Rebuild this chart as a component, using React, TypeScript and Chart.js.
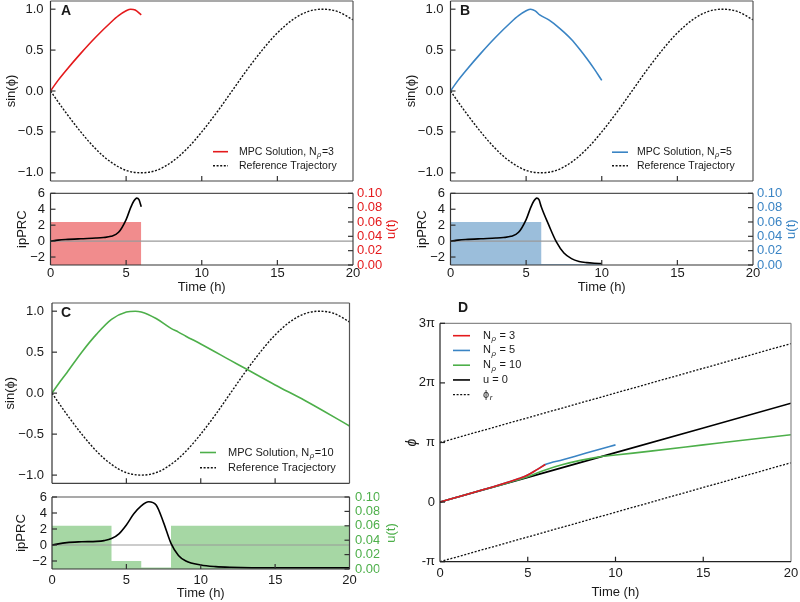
import React, { useEffect, useRef } from "react";
import { Chart, registerables } from "chart.js";
Chart.register(...registerables);

const FONT = "'Liberation Sans', Arial, Helvetica, sans-serif";
Chart.defaults.font.family = FONT;
Chart.defaults.font.size = 13;
Chart.defaults.color = "#1a1a1a";

// ---------------- data ----------------
const timeTicks = [0, 5, 10, 15, 20];
const sinTicks = [-1, -0.5, 0, 0.5, 1];
const prcTicks = [-2, 0, 2, 4, 6];
const uTicks = [0, 0.02, 0.04, 0.06, 0.08, 0.1];
const phiTicks = [-1, 0, 1, 2, 3];
const phiTickLabels = ["-π", "0", "π", "2π", "3π"];

// reference trajectory sin(phi_r)
const refTimes = [0, 1, 2, 3, 4, 5, 6, 7, 8, 9, 10, 11, 12, 13, 14, 15, 16, 17, 18, 19, 20];
const refSin = [0, -0.26, -0.5, -0.71, -0.87, -0.97, -1.0, -0.97, -0.87, -0.71, -0.5, -0.26, 0, 0.26, 0.5, 0.71, 0.87, 0.97, 1.0, 0.97, 0.87];

// MPC solutions sin(phi)
const mpcTimesA = [0, 0.5, 1, 2, 3, 4, 4.5, 5, 5.3, 5.6, 6];
const mpcSinA = [0, 0.13, 0.245, 0.46, 0.66, 0.84, 0.92, 0.98, 1.0, 0.99, 0.93];
const mpcTimesB = [0, 0.5, 1, 2, 3, 4, 4.5, 5, 5.3, 5.6, 5.9, 6.5, 7, 7.5, 8, 8.5, 9, 9.5, 10];
const mpcSinB = [0, 0.13, 0.245, 0.46, 0.66, 0.84, 0.92, 0.98, 1.0, 0.98, 0.93, 0.87, 0.8, 0.72, 0.63, 0.52, 0.4, 0.27, 0.13];
const mpcTimesC = [0, 0.5, 1, 2, 3, 4, 5, 5.6, 6, 7, 8, 8.5, 9, 10, 12, 13, 15, 17, 20];
const mpcSinC = [0, 0.13, 0.25, 0.5, 0.72, 0.9, 0.99, 1.0, 0.99, 0.91, 0.79, 0.745, 0.695, 0.6, 0.4, 0.3, 0.1, -0.09, -0.4];

// ipPRC along the trajectories
const prcTimesA = [0, 0.5, 1, 2, 3, 3.5, 4, 4.5, 5, 5.3, 5.5, 5.7, 5.85, 6];
const prcA = [0, 0.12, 0.2, 0.3, 0.38, 0.45, 0.6, 1.1, 2.7, 4.2, 5.0, 5.4, 5.2, 4.3];
const prcTimesB = [0, 0.5, 1, 2, 3, 3.5, 4, 4.5, 5, 5.3, 5.5, 5.7, 5.85, 6, 6.5, 7, 7.5, 8, 8.5, 9, 9.5, 10];
const prcB = [0, 0.12, 0.2, 0.3, 0.38, 0.45, 0.6, 1.1, 2.7, 4.2, 5.0, 5.4, 5.2, 4.3, 2.0, -0.1, -1.5, -2.2, -2.55, -2.7, -2.78, -2.82];
const prcTimesC = [0, 1, 2, 3, 3.5, 4, 4.5, 5, 5.5, 6, 6.5, 7, 7.5, 8, 8.5, 9, 10, 11, 12, 15, 20];
const prcC = [0, 0.3, 0.4, 0.45, 0.55, 0.8, 1.4, 2.5, 3.9, 4.9, 5.4, 5.0, 2.8, 0.2, -1.3, -2.0, -2.5, -2.7, -2.78, -2.85, -2.85];

// zero line
const zeroTimes = [0, 20];
const zeroVals = [0, 0];

// control input u(t): value held from each time until the next one
const uTimesA = [0, 6];
const uA = [0.06, 0.06];
const uTimesB = [0, 6, 10];
const uB = [0.06, 0.0015, 0.0015];
const uTimesC = [0, 4, 6, 8, 20];
const uC = [0.06, 0.011, 0.002, 0.06, 0.06];

// phase (in units of pi)
const phiTimesRed = [0, 1, 2, 3, 4, 4.5, 5, 5.5, 6];
const phiRed = [0, 0.085, 0.17, 0.255, 0.345, 0.395, 0.455, 0.54, 0.63];
const phiTimesBlue = [0, 1, 2, 3, 4, 4.5, 5, 5.5, 6, 7, 8, 9, 10];
const phiBlue = [0, 0.085, 0.17, 0.255, 0.345, 0.395, 0.455, 0.54, 0.63, 0.71, 0.795, 0.88, 0.96];
const phiTimesGreen = [0, 1, 2, 3, 4, 5, 6, 7, 8, 9, 10, 12, 15, 17, 20];
const phiGreen = [0, 0.085, 0.17, 0.25, 0.335, 0.425, 0.54, 0.63, 0.7, 0.755, 0.79, 0.855, 0.96, 1.03, 1.13];
const phiTimesFree = [0, 5, 10, 15, 20];
const phiFree = [0, 0.415, 0.83, 1.245, 1.66];
const phiRefTimes = [0, 20];
const phiRefUpper = [1, 2.66];
const phiRefLower = [-1, 0.66];

// ---------------- styles ----------------
const RED = "#e41a1c";
const BLUE = "#3a84c4";
const GREEN = "#4daf4a";
const RED_FILL = "rgba(228,26,28,0.5)";
const BLUE_FILL = "rgba(55,126,184,0.5)";
const GREEN_FILL = "rgba(77,175,74,0.5)";
const TXT = "#1a1a1a";
const LH = 13 * 1.2;

const pts = (xs: number[], ys: number[]) => xs.map((x, i) => ({ x, y: ys[i] }));
const minus = (s: string) => s.replace("-", "\u2212");

type Geo = { l: number; t: number; w: number; h: number; x0: number; y0: number; x1: number; y1: number };

function framePlugin(o: any) {
  return {
    id: "frame",
    afterDatasetsDraw(chart: any) {
      const { ctx, chartArea: a } = chart;
      const sx = chart.scales.x;
      const sy = chart.scales.y;
      const sy1 = chart.scales.y1;
      ctx.save();
      ctx.lineWidth = 1.2;
      const seg = (c: string, x1: number, y1: number, x2: number, y2: number) => {
        ctx.strokeStyle = c;
        ctx.beginPath();
        ctx.moveTo(x1, y1);
        ctx.lineTo(x2, y2);
        ctx.stroke();
      };
      seg(o.top, a.left, a.top, a.right, a.top);
      seg(o.right, a.right, a.top, a.right, a.bottom);
      seg(o.bottom, a.left, a.bottom, a.right, a.bottom);
      seg(o.left, a.left, a.top, a.left, a.bottom);
      const L = 5;
      const xPix = (v: number) => a.left + ((v - sx.min) / (sx.max - sx.min)) * (a.right - a.left);
      for (const v of o.xTicks || []) {
        const px = xPix(v);
        seg(o.tick, px, a.bottom, px, a.bottom - L);
      }
      for (const v of o.yTicks || []) {
        const py = sy.getPixelForValue(v);
        seg(o.tick, a.left, py, a.left + L, py);
      }
      if (sy1) {
        for (const v of o.y1Ticks || []) {
          const py = sy1.getPixelForValue(v);
          seg(o.tick, a.right, py, a.right - L, py);
        }
      }
      ctx.restore();
    },
  };
}

function drawRich(ctx: CanvasRenderingContext2D, text: string, x: number, y: number, size: number) {
  ctx.fillStyle = TXT;
  ctx.textBaseline = "middle";
  ctx.textAlign = "left";
  const parts = text.split(/(_.)/);
  for (const p of parts) {
    if (!p) continue;
    if (p.startsWith("_")) {
      const s = p.slice(1);
      ctx.font = `italic ${size * 0.72}px ${FONT}`;
      ctx.fillText(s, x + 0.5, y + size * 0.3);
      x += ctx.measureText(s).width + 1;
    } else {
      ctx.font = `${size}px ${FONT}`;
      ctx.fillText(p, x, y);
      x += ctx.measureText(p).width;
    }
  }
}

function legendPlugin(o: any) {
  return {
    id: "miniLegend",
    afterDraw(chart: any) {
      const ctx = chart.ctx;
      const sets = chart.data.datasets;
      o.rows.forEach((idx: number, i: number) => {
        const ds = sets[idx];
        const y = o.y + i * o.dy;
        ctx.save();
        ctx.strokeStyle = ds.borderColor;
        ctx.lineWidth = ds.borderWidth;
        ctx.setLineDash(ds.borderDash || []);
        ctx.beginPath();
        ctx.moveTo(o.x0, y);
        ctx.lineTo(o.x1, y);
        ctx.stroke();
        ctx.setLineDash([]);
        drawRich(ctx, ds.label, o.tx, y, o.size);
        ctx.restore();
      });
    },
  };
}

function annotPlugin(items: any[]) {
  return {
    id: "annot",
    afterDraw(chart: any) {
      const ctx = chart.ctx;
      for (const t of items) {
        ctx.save();
        ctx.translate(t.x, t.y);
        if (t.rot) ctx.rotate(t.rot);
        ctx.font = t.font;
        ctx.fillStyle = t.color || TXT;
        ctx.textAlign = t.align || "center";
        ctx.textBaseline = "middle";
        ctx.fillText(t.text, 0, 0);
        ctx.restore();
      }
    },
  };
}

const noGrid = { display: false, drawTicks: false };
const noBorder = { display: false };

function sinChart(g: Geo, o: any) {
  const scaleLeft = o.titleCx - LH / 2;
  const leftW = g.x0 - scaleLeft;
  const padding = { left: scaleLeft - g.l, top: g.y0 - g.t, right: g.l + g.w - g.x1, bottom: g.t + g.h - g.y1 };
  return {
    type: "line",
    data: {
      datasets: [
        { label: o.label, data: pts(o.times, o.vals), borderColor: o.color, borderWidth: 1.6, pointRadius: 0, cubicInterpolationMode: "monotone" },
        { label: o.refLabel, data: pts(refTimes, refSin), borderColor: "#111", borderWidth: 1.4, borderDash: [2, 1.6], pointRadius: 0, cubicInterpolationMode: "monotone" },
      ],
    },
    options: {
      responsive: false,
      animation: false,
      devicePixelRatio: 1,
      layout: { padding },
      scales: {
        x: { type: "linear", min: 0, max: 20, display: false },
        y: {
          min: -1.1,
          max: 1.1,
          ticks: { stepSize: 0.5, autoSkip: false, includeBounds: false, padding: o.tickPad, color: TXT, font: { size: 13 }, callback: (v: any) => minus(Number(v).toFixed(1)) },
          grid: noGrid,
          border: noBorder,
          title: { display: true, text: "sin(ϕ)", color: TXT, font: { size: 13 }, padding: 0 },
          afterFit: (s: any) => { s.width = leftW; s.paddingTop = 0; s.paddingBottom = 0; },
        },
      },
      plugins: { legend: { display: false }, tooltip: { enabled: false } },
    },
    plugins: [
      framePlugin({ top: "#555", right: "#555", bottom: "#444", left: "#333", tick: "#333", xTicks: timeTicks.slice(1, -1), yTicks: sinTicks }),
      legendPlugin({ rows: [0, 1], x0: o.lg.x0 - g.l, x1: o.lg.x1 - g.l, tx: o.lg.tx - g.l, y: o.lg.y - g.t, dy: o.lg.dy, size: o.lg.size }),
      annotPlugin([{ text: o.letter, x: o.letterX - g.l, y: o.letterY - g.t, font: `bold 14px ${FONT}`, align: "left" }]),
    ],
  };
}

function prcChart(g: Geo, o: any) {
  const scaleLeft = o.titleCx - LH / 2;
  const leftW = g.x0 - scaleLeft;
  const rightW = 30;
  const scaleBottom = o.xTitleCy + LH / 2;
  const bottomH = scaleBottom - g.y1;
  const padding = { left: scaleLeft - g.l, top: g.y0 - g.t, right: g.l + g.w - g.x1 - rightW, bottom: g.t + g.h - scaleBottom };
  return {
    type: "line",
    data: {
      datasets: [
        { label: "ipPRC", data: pts(o.prcTimes, o.prc), borderColor: "#000", borderWidth: 1.6, pointRadius: 0, cubicInterpolationMode: "monotone", yAxisID: "y" },
        { label: "zero", data: pts(zeroTimes, zeroVals), borderColor: "#9a9a9a", borderWidth: 1.1, pointRadius: 0, yAxisID: "y" },
        { label: "u(t)", data: pts(o.uTimes, o.u), borderColor: "rgba(0,0,0,0)", borderWidth: 0, backgroundColor: o.fill, fill: "start", stepped: "before", pointRadius: 0, yAxisID: "y1" },
      ],
    },
    options: {
      responsive: false,
      animation: false,
      devicePixelRatio: 1,
      layout: { padding },
      scales: {
        x: {
          type: "linear",
          min: 0,
          max: 20,
          ticks: { stepSize: 5, autoSkip: false, padding: o.xLabPad, color: TXT, font: { size: 13 } },
          grid: noGrid,
          border: noBorder,
          title: { display: true, text: "Time (h)", color: TXT, font: { size: 13 }, padding: 0 },
          afterFit: (s: any) => { s.height = bottomH; s.paddingLeft = 0; s.paddingRight = 0; },
        },
        y: {
          position: "left",
          min: -3,
          max: 6,
          ticks: { stepSize: 2, autoSkip: false, includeBounds: false, padding: o.tickPad, color: TXT, font: { size: 13 }, callback: (v: any) => minus(String(v)) },
          grid: noGrid,
          border: noBorder,
          title: { display: true, text: "ipPRC", color: TXT, font: { size: 13 }, padding: 0 },
          afterFit: (s: any) => { s.width = leftW; s.paddingTop = 0; s.paddingBottom = 0; },
        },
        y1: {
          position: "right",
          min: 0,
          max: 0.1,
          ticks: { stepSize: 0.02, autoSkip: false, includeBounds: false, padding: o.rPad, color: o.color, font: { size: 13 }, callback: (v: any) => Number(v).toFixed(2) },
          grid: noGrid,
          border: noBorder,
          afterFit: (s: any) => { s.width = rightW; s.paddingTop = 0; s.paddingBottom = 0; },
        },
      },
      plugins: { legend: { display: false }, tooltip: { enabled: false } },
    },
    plugins: [
      framePlugin({ top: "#555", right: "#444", bottom: "#333", left: "#333", tick: "#333", xTicks: timeTicks.slice(1, -1), yTicks: prcTicks, y1Ticks: uTicks }),
      annotPlugin([{ text: "u(t)", x: o.rTitleCx - g.l, y: (g.y0 + g.y1) / 2 - g.t, rot: -Math.PI / 2, font: `13px ${FONT}`, color: o.color }]),
    ],
  };
}

function phaseChart(g: Geo) {
  const tFont = 14 * 1.2;
  const scaleLeft = 412 - tFont / 2;
  const leftW = g.x0 - scaleLeft;
  const scaleBottom = 592 + LH / 2;
  const bottomH = scaleBottom - g.y1;
  const padding = { left: scaleLeft - g.l, top: g.y0 - g.t, right: g.l + g.w - g.x1, bottom: g.t + g.h - scaleBottom };
  const line = (label: string, xs: number[], ys: number[], color: string, extra: any = {}) => ({
    label, data: pts(xs, ys), borderColor: color, borderWidth: 1.6, pointRadius: 0, ...extra,
  });
  return {
    type: "line",
    data: {
      datasets: [
        line("N_ρ = 3", phiTimesRed, phiRed, RED, { cubicInterpolationMode: "monotone" }),
        line("N_ρ = 5", phiTimesBlue, phiBlue, BLUE, { cubicInterpolationMode: "monotone" }),
        line("N_ρ = 10", phiTimesGreen, phiGreen, GREEN, { cubicInterpolationMode: "monotone" }),
        line("u = 0", phiTimesFree, phiFree, "#000"),
        line("ϕ_r", phiRefTimes, phiRefUpper, "#111", { borderDash: [2, 1.6], borderWidth: 1.3 }),
        line("ϕ_r", phiRefTimes, phiRefLower, "#111", { borderDash: [2, 1.6], borderWidth: 1.3 }),
      ],
    },
    options: {
      responsive: false,
      animation: false,
      devicePixelRatio: 1,
      layout: { padding },
      scales: {
        x: {
          type: "linear",
          min: 0,
          max: 20,
          ticks: { stepSize: 5, autoSkip: false, padding: 3.5, color: TXT, font: { size: 13 } },
          grid: noGrid,
          border: noBorder,
          title: { display: true, text: "Time (h)", color: TXT, font: { size: 13 }, padding: 0 },
          afterFit: (s: any) => { s.height = bottomH; s.paddingLeft = 0; s.paddingRight = 0; },
        },
        y: {
          min: -1,
          max: 3,
          ticks: { stepSize: 1, autoSkip: false, padding: 5, color: TXT, font: { size: 13 }, callback: (v: any) => phiTickLabels[phiTicks.indexOf(Number(v))] },
          grid: noGrid,
          border: noBorder,
          title: { display: true, text: "ϕ", color: TXT, font: { size: 14, style: "italic" }, padding: 0 },
          afterFit: (s: any) => { s.width = leftW; s.paddingTop = 0; s.paddingBottom = 0; },
        },
      },
      plugins: { legend: { display: false }, tooltip: { enabled: false } },
    },
    plugins: [
      framePlugin({ top: "#8a8a8a", right: "#8a8a8a", bottom: "#222", left: "#222", tick: "#222", xTicks: timeTicks.slice(1, -1), yTicks: phiTicks }),
      legendPlugin({ rows: [0, 1, 2, 3, 4], x0: 453 - g.l, x1: 470 - g.l, tx: 483 - g.l, y: 335.7 - g.t, dy: 14.75, size: 11 }),
      annotPlugin([{ text: "D", x: 458 - g.l, y: 308 - g.t, font: `bold 14px ${FONT}`, align: "left" }]),
    ],
  };
}

// ---------------- geometry ----------------
const G_A_TOP: Geo = { l: 0, t: 0, w: 400, h: 190, x0: 50.5, y0: 1, x1: 353, y1: 181 };
const G_A_BOT: Geo = { l: 0, t: 185, w: 400, h: 117, x0: 50.5, y0: 193.3, x1: 353, y1: 265 };
const G_B_TOP: Geo = { l: 400, t: 0, w: 400, h: 190, x0: 450.5, y0: 1, x1: 753, y1: 181 };
const G_B_BOT: Geo = { l: 400, t: 185, w: 400, h: 117, x0: 450.5, y0: 193.3, x1: 753, y1: 265 };
const G_C_TOP: Geo = { l: 0, t: 292, w: 400, h: 195, x0: 52, y0: 303, x1: 349.5, y1: 483.3 };
const G_C_BOT: Geo = { l: 0, t: 485, w: 400, h: 117, x0: 52, y0: 497, x1: 349.5, y1: 569 };
const G_D: Geo = { l: 400, t: 295, w: 400, h: 307, x0: 440, y0: 323.3, x1: 791, y1: 561.7 };

function ChartCanvas({ geo, make }: { geo: Geo; make: () => any }) {
  const ref = useRef<HTMLCanvasElement>(null);
  useEffect(() => {
    const chart = new Chart(ref.current as HTMLCanvasElement, make());
    return () => chart.destroy();
  }, []);
  return (
    <canvas
      ref={ref}
      width={geo.w}
      height={geo.h}
      style={{ position: "absolute", left: geo.l, top: geo.t, width: geo.w, height: geo.h }}
    />
  );
}

export default function App() {
  return (
    <div style={{ position: "fixed", left: 0, top: 0, width: 800, height: 602, background: "#fff", overflow: "hidden" }}>
      <ChartCanvas
        geo={G_A_TOP}
        make={() =>
          sinChart(G_A_TOP, {
            times: mpcTimesA, vals: mpcSinA, color: RED, label: "MPC Solution, N_ρ=3", refLabel: "Reference Trajectory",
            letter: "A", letterX: 61, letterY: 10.8, titleCx: 11, tickPad: 7,
            lg: { x0: 213, x1: 228, tx: 239, y: 151.7, dy: 14, size: 10.5 },
          })
        }
      />
      <ChartCanvas
        geo={G_A_BOT}
        make={() =>
          prcChart(G_A_BOT, {
            prcTimes: prcTimesA, prc: prcA, uTimes: uTimesA, u: uA, fill: RED_FILL, color: RED,
            titleCx: 22, tickPad: 5.5, xLabPad: 0.5, xTitleCy: 287.3, rPad: 4, rTitleCx: 391.7,
          })
        }
      />
      <ChartCanvas
        geo={G_B_TOP}
        make={() =>
          sinChart(G_B_TOP, {
            times: mpcTimesB, vals: mpcSinB, color: BLUE, label: "MPC Solution, N_ρ=5", refLabel: "Reference Trajectory",
            letter: "B", letterX: 460, letterY: 10.8, titleCx: 411, tickPad: 7,
            lg: { x0: 612, x1: 628, tx: 637, y: 152.2, dy: 13.5, size: 10.5 },
          })
        }
      />
      <ChartCanvas
        geo={G_B_BOT}
        make={() =>
          prcChart(G_B_BOT, {
            prcTimes: prcTimesB, prc: prcB, uTimes: uTimesB, u: uB, fill: BLUE_FILL, color: BLUE,
            titleCx: 422, tickPad: 5.5, xLabPad: 0.5, xTitleCy: 287.3, rPad: 4, rTitleCx: 791.7,
          })
        }
      />
      <ChartCanvas
        geo={G_C_TOP}
        make={() =>
          sinChart(G_C_TOP, {
            times: mpcTimesC, vals: mpcSinC, color: GREEN, label: "MPC Solution, N_ρ=10", refLabel: "Reference Tracjectory",
            letter: "C", letterX: 61, letterY: 313, titleCx: 10, tickPad: 8,
            lg: { x0: 200, x1: 216, tx: 228, y: 452.5, dy: 15.2, size: 11 },
          })
        }
      />
      <ChartCanvas
        geo={G_C_BOT}
        make={() =>
          prcChart(G_C_BOT, {
            prcTimes: prcTimesC, prc: prcC, uTimes: uTimesC, u: uC, fill: GREEN_FILL, color: GREEN,
            titleCx: 21, tickPad: 5, xLabPad: 3.2, xTitleCy: 593.3, rPad: 5.5, rTitleCx: 391.7,
          })
        }
      />
      <ChartCanvas geo={G_D} make={() => phaseChart(G_D)} />
    </div>
  );
}
